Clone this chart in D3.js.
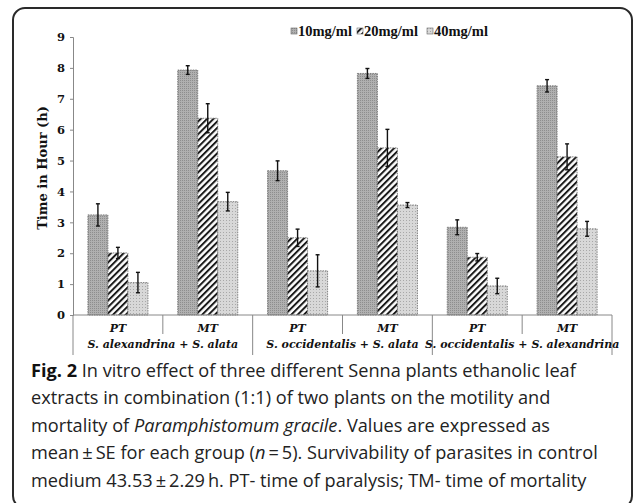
<!DOCTYPE html>
<html><head><meta charset="utf-8">
<script src="https://cdn.jsdelivr.net/npm/d3@7"></script>
<style>body{margin:0;background:#fff}svg{display:block}</style>
</head><body>
<svg id="c" width="635" height="503"></svg>
<script>
const categories = ["PT","MT","PT","MT","PT","MT"];
const groups = ["S. alexandrina + S. alata","S. occidentalis + S. alata","S. occidentalis + S. alexandrina"];
const series = ["10mg/ml","20mg/ml","40mg/ml"];
const values10 = [3.24, 7.93, 4.67, 7.82, 2.84, 7.42];
const values20 = [2.01, 6.37, 2.50, 5.41, 1.87, 5.12];
const values40 = [1.05, 3.67, 1.43, 3.56, 0.94, 2.79];
const err10 = [0.36, 0.14, 0.32, 0.16, 0.24, 0.20];
const err20 = [0.18, 0.47, 0.28, 0.60, 0.12, 0.42];
const err40 = [0.33, 0.30, 0.52, 0.08, 0.25, 0.24];
const yTicks = [0,1,2,3,4,5,6,7,8,9];
const yTitle = "Time in Hour (h)";

const svg = d3.select("#c");
const defs = svg.append("defs");
const p1 = defs.append("pattern").attr("id","p10").attr("patternUnits","userSpaceOnUse").attr("width",2).attr("height",2);
p1.append("rect").attr("width",2).attr("height",2).attr("fill","#b0b0b0");
p1.append("rect").attr("width",1).attr("height",1).attr("fill","#8e8e8e");
const p2 = defs.append("pattern").attr("id","p20").attr("patternUnits","userSpaceOnUse").attr("width",4.5).attr("height",4.5).attr("patternTransform","rotate(45)");
p2.append("rect").attr("width",4.5).attr("height",4.5).attr("fill","#fff");
p2.append("rect").attr("width",2).attr("height",4.5).attr("fill","#1a1a1a");
const p3 = defs.append("pattern").attr("id","p40").attr("patternUnits","userSpaceOnUse").attr("width",3).attr("height",3);
p3.append("rect").attr("width",3).attr("height",3).attr("fill","#d8d8d8");
p3.append("rect").attr("x",1).attr("y",1).attr("width",1).attr("height",1).attr("fill","#a8a8a8");
const fills = ["url(#p10)","url(#p20)","url(#p40)"];

svg.append("rect").attr("x",13).attr("y",8).attr("width",619).attr("height",500).attr("rx",12)
  .attr("fill","none").attr("stroke","#2a2a2a").attr("stroke-width",2);

const y = d3.scaleLinear().domain([0,9]).range([315,37]);
const x0 = d3.scaleBand().domain(d3.range(categories.length)).range([73,612]).paddingInner(0).paddingOuter(0);
const x1 = d3.scaleBand().domain(series).range([0,x0.bandwidth()]).paddingInner(0).paddingOuter(0.745);

const serif = "'DejaVu Serif', 'Liberation Serif', serif";
const serif2 = "'Liberation Serif', 'DejaVu Serif', serif";

const ya = svg.append("g").attr("transform","translate(73,0)")
  .call(d3.axisLeft(y).tickValues(yTicks).tickSize(3).tickPadding(5).tickFormat(d3.format("d")));
ya.select(".domain").attr("stroke","#888");
ya.selectAll(".tick line").attr("stroke","#888");
ya.selectAll("text").attr("font-family",serif).attr("font-weight","bold").attr("font-size",11.5).attr("fill","#111");

svg.append("text").attr("transform","translate(47,168) rotate(-90)").attr("text-anchor","middle")
  .attr("font-family",serif).attr("font-weight","bold").attr("font-size",13).attr("fill","#111").text(yTitle);

const data = [values10, values20, values40];
const errs = [err10, err20, err40];
series.forEach((s,si)=>{
  const g = svg.append("g");
  g.selectAll("rect").data(data[si]).join("rect")
    .attr("x",(d,i)=>x0(i)+x1(s)).attr("y",d=>y(d))
    .attr("width",x1.bandwidth()).attr("height",d=>y(0)-y(d))
    .attr("fill",fills[si]).attr("stroke","#666").attr("stroke-width",0.8).attr("stroke-dasharray","1.5,1");
});
series.forEach((s,si)=>{
  const g = svg.append("g").attr("stroke","#111").attr("stroke-width",1.4);
  data[si].forEach((v,i)=>{
    const cx = x0(i)+x1(s)+x1.bandwidth()/2;
    const e = errs[si][i];
    g.append("line").attr("x1",cx).attr("x2",cx).attr("y1",y(v+e)).attr("y2",y(v-e));
    g.append("line").attr("x1",cx-2).attr("x2",cx+2).attr("y1",y(v+e)).attr("y2",y(v+e));
    g.append("line").attr("x1",cx-2).attr("x2",cx+2).attr("y1",y(v-e)).attr("y2",y(v-e));
  });
});

const xa = svg.append("g").attr("stroke","#888").attr("stroke-width",1);
xa.append("line").attr("x1",x0.range()[0]).attr("x2",x0.range()[1]).attr("y1",y(0)).attr("y2",y(0));
for(let i=0;i<=categories.length;i++){
  const xx = i<categories.length ? x0(i) : x0.range()[1];
  const long = i%2===0;
  xa.append("line").attr("x1",xx).attr("x2",xx).attr("y1",y(0)).attr("y2",long?355:334);
}
svg.append("g").selectAll("text").data(categories).join("text")
  .attr("x",(d,i)=>x0(i)+x0.bandwidth()/2).attr("y",332).attr("text-anchor","middle")
  .attr("font-family",serif).attr("font-weight","bold").attr("font-style","italic").attr("font-size",11).attr("fill","#111")
  .text(d=>d);
svg.append("g").selectAll("text").data(groups).join("text")
  .attr("x",(d,i)=>x0(i*2)+x0.bandwidth()).attr("y",348).attr("text-anchor","middle")
  .attr("font-family",serif).attr("font-weight","bold").attr("font-style","italic").attr("font-size",11).attr("fill","#111")
  .text(d=>d);

const legX = [291, 357, 427];
series.forEach((s,si)=>{
  svg.append("rect").attr("x",legX[si]).attr("y",28).attr("width",6).attr("height",6)
    .attr("fill",fills[si]).attr("stroke","#666").attr("stroke-width",0.6);
  svg.append("text").attr("x",legX[si]+7).attr("y",35.5).attr("font-family",serif2).attr("font-weight","bold")
    .attr("font-size",14.5).attr("fill","#111").text(s);
});

const capLines = [
  [["Fig. 2","bold",""],[" In vitro effect of three different Senna plants ethanolic leaf","",""]],
  [["extracts in combination (1:1) of two plants on the motility and","",""]],
  [["mortality of ","",""],["Paramphistomum gracile","","italic"],[". Values are expressed as","",""]],
  [["mean\u2009\u00b1\u2009SE for each group (","",""],["n","","italic"],["\u2009=\u20095). Survivability of parasites in control","",""]],
  [["medium 43.53\u2009\u00b1\u20092.29\u2009h. PT- time of paralysis; TM- time of mortality","",""]]
];
const cap = svg.append("g").attr("font-family","'Open Sans', 'Noto Sans', sans-serif").attr("fill","#222").attr("font-size",19);
const baselines = [377,404,432,459,487];
capLines.forEach((ln,li)=>{
  const t = cap.append("text").attr("x",31).attr("y",baselines[li]);
  ln.forEach(([txt,w,st])=>{
    const ts = t.append("tspan").text(txt);
    if(w) ts.attr("font-weight",w).attr("fill","#111");
    if(st) ts.attr("font-style",st);
  });
});
const w1 = cap.select("text").node().getComputedTextLength();
cap.attr("font-size",19*545/w1);
</script>
</body></html>
